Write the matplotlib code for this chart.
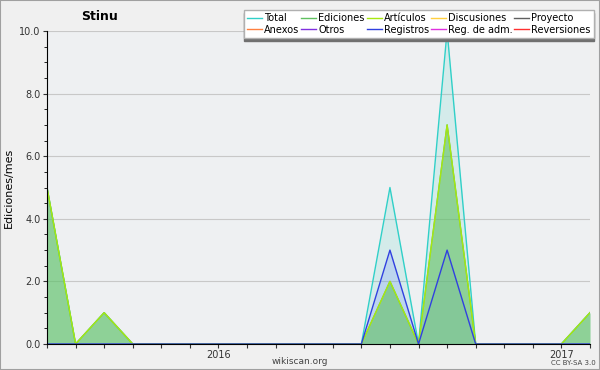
import matplotlib
matplotlib.use("Agg")
import matplotlib.pyplot as plt
from matplotlib.ticker import MultipleLocator

# monthly values, Jul 2015 .. Feb 2017
months = ["2015-07", "2015-08", "2015-09", "2015-10", "2015-11", "2015-12",
          "2016-01", "2016-02", "2016-03", "2016-04", "2016-05", "2016-06",
          "2016-07", "2016-08", "2016-09", "2016-10", "2016-11", "2016-12",
          "2017-01", "2017-02"]
total     = [5, 0, 1, 0, 0, 0, 0, 0, 0, 0, 0, 0, 5, 0, 10, 0, 0, 0, 0, 1]
ediciones = [5, 0, 1, 0, 0, 0, 0, 0, 0, 0, 0, 0, 2, 0, 7, 0, 0, 0, 0, 1]
articulos = [5, 0, 1, 0, 0, 0, 0, 0, 0, 0, 0, 0, 2, 0, 7, 0, 0, 0, 0, 1]
registros = [0, 0, 0, 0, 0, 0, 0, 0, 0, 0, 0, 0, 3, 0, 3, 0, 0, 0, 0, 0]
year_labels = {"2016-01": "2016", "2017-01": "2017"}

x = list(range(len(months)))

plt.rcParams['font.family'] = ['DejaVu Sans']
fig = plt.figure(figsize=(6, 3.7), dpi=100, facecolor="#f0f0f0")
fig.patches.append(plt.Rectangle((0, 0), 1, 1, transform=fig.transFigure,
                                 fill=False, edgecolor="#a0a0a0", lw=1.5))
ax = fig.add_axes([47 / 600, 26 / 370, 543 / 600, 313 / 370])
ax.set_facecolor("#eef0f2")

# areas
ax.fill_between(x, total, color="#40d0c0", alpha=0.15, lw=0)
ax.fill_between(x, registros, color="#6080ff", alpha=0.2, lw=0)
ax.fill_between(x, ediciones, color="#60c060", alpha=0.6, lw=0)

# lines
ax.plot(x, total, color="#30d0c8", lw=1, label="Total")
ax.plot(x, ediciones, color="#60c060", lw=1, label="Ediciones")
ax.plot(x, articulos, color="#a8e810", lw=1, label="Artículos")
ax.plot([], [], color="#ffd040", lw=1, label="Discusiones")
ax.plot([], [], color="#606060", lw=1, label="Proyecto")
ax.plot([], [], color="#ff8040", lw=1, label="Anexos")
ax.plot([], [], color="#8030e0", lw=1, label="Otros")
ax.plot(x, registros, color="#3040e0", lw=1, label="Registros")
ax.plot([], [], color="#e030e0", lw=1, label="Reg. de adm.")
ax.plot([], [], color="#ff3030", lw=1, label="Reversiones")

ax.set_xlim(0, len(months) - 1)
ax.set_ylim(0, 10)
ax.yaxis.set_major_locator(MultipleLocator(2))
ax.yaxis.set_minor_locator(MultipleLocator(0.5))
ax.set_yticklabels([f"{v:.1f}" for v in ax.get_yticks()])
ax.grid(axis="y", color="#c8c8c8", lw=0.8)
ax.set_axisbelow(True)

ax.set_xticks(x)
ax.set_xticklabels([year_labels.get(m, "") for m in months])
ax.tick_params(axis="both", labelsize=7, colors="#333333", length=3, width=0.8, pad=1.5)
ax.tick_params(axis="y", which="minor", length=2.5)
for s in ["top", "right"]:
    ax.spines[s].set_visible(False)

ax.set_ylabel("Ediciones/mes", fontsize=8, labelpad=4)
fig.text(100 / 600, 1 - 17 / 370, "Stinu", fontsize=9, fontweight="bold",
         ha="center", va="center")
fig.text(300 / 600, 1 - 361 / 370, "wikiscan.org", fontsize=6.5,
         color="#444444", ha="center", va="center")
fig.text(596 / 600, 1 - 363 / 370, "CC BY-SA 3.0", fontsize=5,
         color="#444444", ha="right", va="center")

# legend, row-wise order in 5 columns
handles, labels = ax.get_legend_handles_labels()
order = [0, 5, 1, 6, 2, 7, 3, 8, 4, 9]
leg = fig.legend([handles[i] for i in order], [labels[i] for i in order],
                 ncol=5, loc="upper right", bbox_to_anchor=(594 / 600, 1 - 10 / 370),
                 fontsize=7, frameon=True, fancybox=False, edgecolor="#b0b0b0",
                 handlelength=1.55, handletextpad=0.2, columnspacing=0.2,
                 labelspacing=0.15, borderpad=0.35, borderaxespad=0,
                 shadow={"ox": 0, "oy": -2, "color": "#707070", "alpha": 1})
leg.get_frame().set_facecolor("white")

fig.savefig("out.png", dpi=100, facecolor=fig.get_facecolor())
